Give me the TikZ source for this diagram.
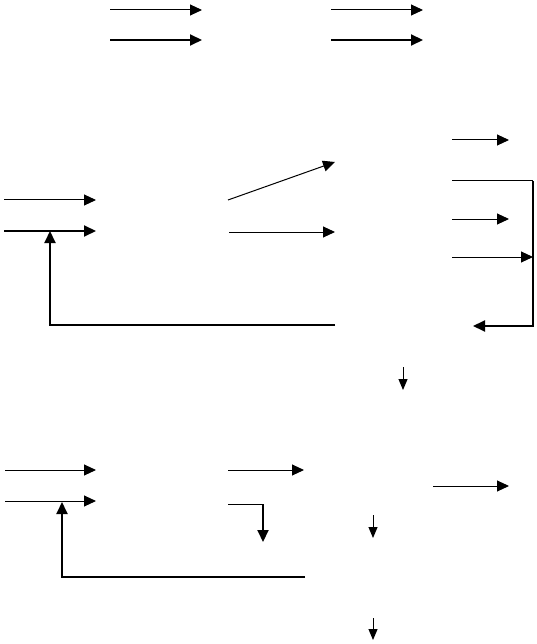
\documentclass[tikz,border=0pt]{standalone}
\usetikzlibrary{arrows.meta}
\begin{document}
\begin{tikzpicture}[x=1pt,y=-1pt,
  thinln/.style={line width=1pt},
  thickln/.style={line width=2pt},
  arr/.style={-{Triangle[length=12pt,width=11pt]}},
  sarr/.style={-{Triangle[length=11pt,width=9pt]}}]
\useasboundingbox (0,0) rectangle (536,644);
% top
\coordinate (t1a) at (110,10); \coordinate (t1b) at (202,10);
\coordinate (t2a) at (110,40); \coordinate (t2b) at (202,40);
\coordinate (t3a) at (331,10); \coordinate (t3b) at (423,10);
\coordinate (t4a) at (331,40); \coordinate (t4b) at (423,40);
\draw[thinln,arr] (t1a) -- (t1b);
\draw[thickln,arr] (t2a) -- (t2b);
\draw[thinln,arr] (t3a) -- (t3b);
\draw[thickln,arr] (t4a) -- (t4b);
% middle
\coordinate (m1a) at (4,200); \coordinate (m1b) at (96,200);
\coordinate (m2a) at (4,231); \coordinate (m2b) at (96,231);
\coordinate (fb1) at (335,325); \coordinate (fbc) at (50,325); \coordinate (fbt) at (50,231);
\coordinate (d1a) at (228,200); \coordinate (d1b) at (335,162);
\coordinate (h1a) at (229,232); \coordinate (h1b) at (335,232);
\draw[thinln,arr] (m1a) -- (m1b);
\draw[thickln,arr] (m2a) -- (m2b);
\draw[thickln,arr] (fb1) -- (fbc) -- (fbt);
\draw[thinln,arr] (d1a) -- (d1b);
\draw[thinln,arr] (h1a) -- (h1b);
% right part
\coordinate (r1a) at (452,140); \coordinate (r1b) at (509,140);
\coordinate (r2a) at (452,181); \coordinate (r2c) at (533,181); \coordinate (r2d) at (533,326); \coordinate (r2b) at (473,326);
\coordinate (r3a) at (452,219); \coordinate (r3b) at (509,219);
\coordinate (r4a) at (452,257); \coordinate (r4b) at (533,257);
\draw[thinln,arr] (r1a) -- (r1b);
\draw[thinln] (r2a) -- (r2c);
\draw[thickln,arr] (r2c) -- (r2d) -- (r2b);
\draw[thinln,arr] (r3a) -- (r3b);
\draw[thinln,arr] (r4a) -- (r4b);
\coordinate (v1a) at (403,367); \coordinate (v1b) at (403,390);
\draw[thinln,sarr] (v1a) -- (v1b);
% bottom
\coordinate (b1a) at (5,470); \coordinate (b1b) at (96,470);
\coordinate (b2a) at (5,501); \coordinate (b2b) at (96,501);
\coordinate (bf1) at (305,577); \coordinate (bfc) at (62,577); \coordinate (bft) at (62,502);
\coordinate (b3a) at (228,470); \coordinate (b3b) at (304,470);
\coordinate (b4a) at (228,504); \coordinate (b4c) at (263,504); \coordinate (b4b) at (263,542);
\coordinate (b5a) at (433,486); \coordinate (b5b) at (509,486);
\coordinate (v2a) at (373,515); \coordinate (v2b) at (373,538);
\coordinate (v3a) at (373,618); \coordinate (v3b) at (373,640);
\draw[thinln,arr] (b1a) -- (b1b);
\draw[thinln,arr] (b2a) -- (b2b);
\draw[thickln,arr] (bf1) -- (bfc) -- (bft);
\draw[thinln,arr] (b3a) -- (b3b);
\draw[thinln] (b4a) -- (b4c);
\draw[thickln,arr] (b4c) -- (b4b);
\draw[thinln,arr] (b5a) -- (b5b);
\draw[thinln,sarr] (v2a) -- (v2b);
\draw[thinln,sarr] (v3a) -- (v3b);
\end{tikzpicture}
\end{document}
